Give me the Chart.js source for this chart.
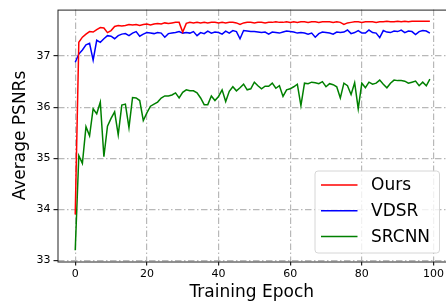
<!DOCTYPE html>
<html>
<head>
<meta charset="utf-8">
<script src="https://cdn.jsdelivr.net/npm/chart.js@4"></script>
<style>
  html, body { margin: 0; padding: 0; background: #fff; }
  #wrap { width: 446px; height: 304px; }
</style>
</head>
<body>
<div id="wrap"><canvas id="lineChart" width="446" height="304"></canvas></div>
<script>
const epochs = [0, 1, 2, 3, 4, 5, 6, 7, 8, 9, 10, 11, 12, 13, 14, 15, 16, 17, 18, 19,
    20, 21, 22, 23, 24, 25, 26, 27, 28, 29, 30, 31, 32, 33, 34, 35, 36, 37, 38, 39,
    40, 41, 42, 43, 44, 45, 46, 47, 48, 49, 50, 51, 52, 53, 54, 55, 56, 57, 58, 59,
    60, 61, 62, 63, 64, 65, 66, 67, 68, 69, 70, 71, 72, 73, 74, 75, 76, 77, 78, 79,
    80, 81, 82, 83, 84, 85, 86, 87, 88, 89, 90, 91, 92, 93, 94, 95, 96, 97, 98, 99];

const ours = [33.90, 37.27, 37.37, 37.43, 37.48, 37.47, 37.52, 37.56, 37.55, 37.46,
    37.50, 37.58, 37.60, 37.59, 37.60, 37.62, 37.61, 37.62, 37.60, 37.62,
    37.63, 37.61, 37.63, 37.64, 37.63, 37.65, 37.64, 37.65, 37.66, 37.66,
    37.47, 37.64, 37.66, 37.65, 37.66, 37.65, 37.66, 37.65, 37.66, 37.66,
    37.65, 37.66, 37.65, 37.66, 37.66, 37.65, 37.62, 37.65, 37.66, 37.66,
    37.65, 37.66, 37.66, 37.65, 37.66, 37.66, 37.67, 37.66, 37.66, 37.67,
    37.66, 37.67, 37.66, 37.67, 37.67, 37.66, 37.67, 37.67, 37.66, 37.67,
    37.67, 37.67, 37.66, 37.67, 37.66, 37.62, 37.65, 37.66, 37.67, 37.67,
    37.66, 37.67, 37.67, 37.67, 37.66, 37.67, 37.67, 37.68, 37.67, 37.67,
    37.68, 37.67, 37.68, 37.67, 37.68, 37.68, 37.68, 37.68, 37.68, 37.68];

const vdsr = [36.88, 37.04, 37.12, 37.22, 37.25, 36.92, 37.31, 37.27, 37.34, 37.40,
    37.39, 37.34, 37.40, 37.43, 37.44, 37.40, 37.45, 37.48, 37.39, 37.43,
    37.46, 37.45, 37.44, 37.46, 37.45, 37.37, 37.44, 37.45, 37.46, 37.48,
    37.45, 37.46, 37.45, 37.48, 37.40, 37.46, 37.44, 37.49, 37.45, 37.47,
    37.46, 37.43, 37.49, 37.45, 37.50, 37.48, 37.34, 37.50, 37.49, 37.48,
    37.48, 37.47, 37.46, 37.47, 37.43, 37.47, 37.46, 37.45, 37.47, 37.49,
    37.48, 37.47, 37.45, 37.46, 37.45, 37.43, 37.45, 37.37, 37.44, 37.47,
    37.46, 37.45, 37.43, 37.47, 37.46, 37.47, 37.51, 37.44, 37.46, 37.50,
    37.45, 37.45, 37.51, 37.46, 37.45, 37.36, 37.50, 37.47, 37.46, 37.49,
    37.48, 37.51, 37.46, 37.49, 37.48, 37.42, 37.48, 37.50, 37.49, 37.45];

const srcnn = [33.20, 35.05, 34.90, 35.62, 35.44, 35.97, 35.87, 36.10, 35.03, 35.63,
    35.78, 35.91, 35.46, 36.04, 36.06, 35.60, 36.19, 36.18, 36.13, 35.74,
    35.89, 36.02, 36.06, 36.10, 36.18, 36.22, 36.22, 36.24, 36.28, 36.18,
    36.29, 36.34, 36.32, 36.32, 36.28, 36.18, 36.05, 36.05, 36.22, 36.13,
    36.21, 36.34, 36.11, 36.31, 36.40, 36.32, 36.38, 36.45, 36.34, 36.36,
    36.49, 36.42, 36.36, 36.41, 36.41, 36.47, 36.37, 36.42, 36.21, 36.34,
    36.36, 36.40, 36.45, 36.03, 36.47, 36.46, 36.49, 36.48, 36.46, 36.50,
    36.40, 36.46, 36.44, 36.40, 36.18, 36.47, 36.42, 36.25, 36.48, 35.97,
    36.47, 36.38, 36.49, 36.45, 36.47, 36.53, 36.45, 36.38, 36.47, 36.53,
    36.52, 36.52, 36.51, 36.47, 36.49, 36.51, 36.42, 36.49, 36.42, 36.55];

const xTicks = [0, 20, 40, 60, 80, 100];
const yTicks = [33, 34, 35, 36, 37];

const font = 'DejaVu Sans';
const gridDash = [6.5, 2.5, 1.5, 2.5];

function points(values) {
    return epochs.map((e, i) => ({ x: e, y: values[i] }));
}

// matplotlib-like frame and legend, drawn over the lines
const framePlugin = {
    id: 'frame',
    afterDraw(chart) {
        const { ctx, chartArea: a } = chart;
        ctx.save();
        ctx.strokeStyle = '#222';
        ctx.lineWidth = 1;
        ctx.strokeRect(a.left + 0.5, a.top + 0.5, a.right - a.left, a.bottom - a.top);

        // legend box
        const bx = 315, by = 171, bw = 124.5, bh = 82, r = 3;
        ctx.beginPath();
        ctx.moveTo(bx + r, by);
        ctx.arcTo(bx + bw, by, bx + bw, by + bh, r);
        ctx.arcTo(bx + bw, by + bh, bx, by + bh, r);
        ctx.arcTo(bx, by + bh, bx, by, r);
        ctx.arcTo(bx, by, bx + bw, by, r);
        ctx.closePath();
        ctx.fillStyle = 'rgba(255,255,255,0.8)';
        ctx.fill();
        ctx.strokeStyle = '#d6d6d6';
        ctx.stroke();

        ctx.font = '17px "' + font + '"';
        ctx.textBaseline = 'middle';
        ctx.fillStyle = '#000';
        chart.data.datasets.forEach((ds, i) => {
            const y = 185 + i * 25.8;
            ctx.beginPath();
            ctx.strokeStyle = ds.borderColor;
            ctx.lineWidth = 1.5;
            ctx.moveTo(321, y);
            ctx.lineTo(357.5, y);
            ctx.stroke();
            ctx.fillText(ds.label, 371, y + 1);
        });
        ctx.restore();
    }
};

new Chart(document.getElementById('lineChart'), {
    type: 'line',
    data: {
        datasets: [
            { label: 'Ours', data: points(ours), borderColor: '#ff0000' },
            { label: 'VDSR', data: points(vdsr), borderColor: '#0000ff' },
            { label: 'SRCNN', data: points(srcnn), borderColor: '#008000' }
        ]
    },
    options: {
        responsive: false,
        animation: false,
        layout: { padding: { top: 7, right: 0, left: 0, bottom: 0 } },
        elements: {
            point: { radius: 0 },
            line: { borderWidth: 1.5, tension: 0, fill: false }
        },
        plugins: {
            legend: { display: false },
            tooltip: { enabled: false }
        },
        scales: {
            x: {
                type: 'linear',
                min: -4.95,
                max: 103.5,
                afterBuildTicks: s => { s.ticks = xTicks.map(v => ({ value: v })); },
                afterFit: s => { s.height = 42.5; },
                grid: {
                    color: '#b8b8b8',
                    lineWidth: 1.2,
                    tickBorderDash: [],
                    tickColor: '#222',
                    tickLength: 4
                },
                border: { display: false, dash: gridDash },
                ticks: {
                    color: '#000',
                    padding: 2,
                    maxRotation: 0,
                    font: { family: font, size: 11 }
                },
                title: {
                    display: true,
                    text: 'Training Epoch',
                    color: '#000',
                    padding: { top: 0, bottom: 1 },
                    font: { family: font, size: 17 }
                }
            },
            y: {
                min: 32.98,
                max: 37.91,
                afterBuildTicks: s => { s.ticks = yTicks.map(v => ({ value: v })); },
                afterFit: s => { s.width = 57.5; },
                grid: {
                    color: '#b8b8b8',
                    lineWidth: 1.2,
                    tickBorderDash: [],
                    tickColor: '#222',
                    tickLength: 4
                },
                border: { display: false, dash: gridDash },
                ticks: {
                    color: '#000',
                    padding: 3,
                    font: { family: font, size: 11 }
                },
                title: {
                    display: true,
                    text: 'Average PSNRs',
                    color: '#000',
                    padding: { top: 10, bottom: 0 },
                    font: { family: font, size: 17 }
                }
            }
        }
    },
    plugins: [framePlugin]
});
</script>
</body>
</html>
